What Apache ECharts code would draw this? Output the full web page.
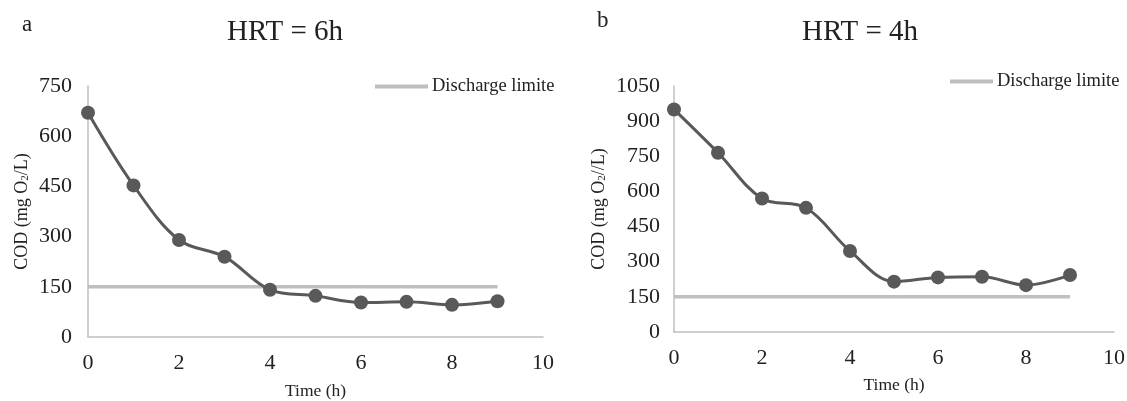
<!DOCTYPE html>
<html><head><meta charset="utf-8">
<script src="https://cdn.jsdelivr.net/npm/echarts@6/dist/echarts.min.js"></script>
<style>html,body{margin:0;padding:0;background:#fff}#c{width:1127px;height:401px}</style>
</head><body><div id="c"></div>
<script>
const timeH = [0,1,2,3,4,5,6,7,8,9];
const codA = [670,453,290,240,141,123,103,105,96,107];
const codB = [950,765,570,530,346,215,233,236,200,243];
const limitA = [150,150,150,150,150,150,150,150,150,150];
const limitB = [150,150,150,150,150,150,150,150,150,150];
const titleA = 'HRT = 6h', titleB = 'HRT = 4h';
const panelA = 'a', panelB = 'b';
const legendName = 'Discharge limite';
const xName = 'Time (h)';
const yNameA = 'COD (mg O{sub|2}/L)';
const yNameB = 'COD (mg O{sub|2}//L)';

const F = '"Liberation Serif","Times New Roman",serif';
const pair = (xs, ys) => xs.map((x,i)=>[x, ys[i]]);
const chart = echarts.init(document.getElementById('c'));
const ax = '#bfbfbf';
const subRich = {sub:{fontSize:11, fontFamily:F, color:'#222', verticalAlign:'bottom', lineHeight:11}};
function xAxis(gi, gap){
  return {gridIndex:gi, type:'value', min:0, max:10, interval:2,
    axisLine:{show:true, lineStyle:{color:ax, width:1.5}}, axisTick:{show:false}, splitLine:{show:false},
    axisLabel:{color:'#222', fontFamily:F, fontSize:22, margin:15},
    name:xName, nameLocation:'middle', nameGap:gap, nameTextStyle:{color:'#222', fontFamily:F, fontSize:17.5}};
}
function yAxis(gi, max, name, gap, margin){
  return {gridIndex:gi, type:'value', min:0, max:max, interval:150,
    axisLine:{show:true, lineStyle:{color:ax, width:1.5}}, axisTick:{show:false}, splitLine:{show:false},
    axisLabel:{color:'#222', fontFamily:F, fontSize:22, margin:margin, formatter:v=>String(v)},
    name:name, nameLocation:'middle', nameGap:gap, nameRotate:90,
    nameTextStyle:{color:'#222', fontFamily:F, fontSize:18, rich:subRich}};
}
const mainStyle = {type:'line', smooth:0.35, symbol:'circle', symbolSize:14,
  lineStyle:{color:'#595959', width:3}, itemStyle:{color:'#595959'}, z:3};
const limStyle = {type:'line', symbol:'none', lineStyle:{color:'#bfbfbf', width:3.5}, itemStyle:{color:'#bfbfbf'}, z:2, name:legendName};
const legendText = {fontFamily:F, fontSize:18.5, color:'#222'};
const tStyle = (s)=>({fontFamily:F, fontSize:s, fontWeight:'normal', color:'#222'});
chart.setOption({
  animation:false,
  title:[
    {text:panelA, left:22, top:13, padding:0, textStyle:tStyle(23)},
    {text:titleA, left:285, top:18, padding:0, textAlign:'center', textStyle:tStyle(29)},
    {text:panelB, left:597, top:9, padding:0, textStyle:tStyle(23)},
    {text:titleB, left:860, top:18, padding:0, textAlign:'center', textStyle:tStyle(29)}
  ],
  legend:[
    {data:[{name:legendName, icon:'rect'}], left:375, top:77, padding:0, itemWidth:53, itemHeight:4, itemGap:4,
     textStyle:Object.assign({padding:[0,0,0,-1]}, legendText)},
    {data:[{name:legendName, icon:'rect'}], left:950, top:72, padding:0, itemWidth:43, itemHeight:4, itemGap:4,
     textStyle:Object.assign({padding:[0,0,0,-1]}, legendText)}
  ],
  grid:[
    {left:88, top:86, width:455, height:251, outerBoundsMode:'none', containLabel:false},
    {left:674, top:86, width:440, height:246, outerBoundsMode:'none', containLabel:false}
  ],
  xAxis:[xAxis(0,45), xAxis(1,44)],
  yAxis:[yAxis(0,750,yNameA,57,16), yAxis(1,1050,yNameB,66,14)],
  series:[
    Object.assign({}, mainStyle, {name:'COD a', xAxisIndex:0, yAxisIndex:0, data:pair(timeH, codA)}),
    Object.assign({}, limStyle, {xAxisIndex:0, yAxisIndex:0, data:pair(timeH, limitA)}),
    Object.assign({}, mainStyle, {name:'COD b', xAxisIndex:1, yAxisIndex:1, data:pair(timeH, codB)}),
    Object.assign({}, limStyle, {xAxisIndex:1, yAxisIndex:1, data:pair(timeH, limitB)})
  ]
});
</script></body></html>
